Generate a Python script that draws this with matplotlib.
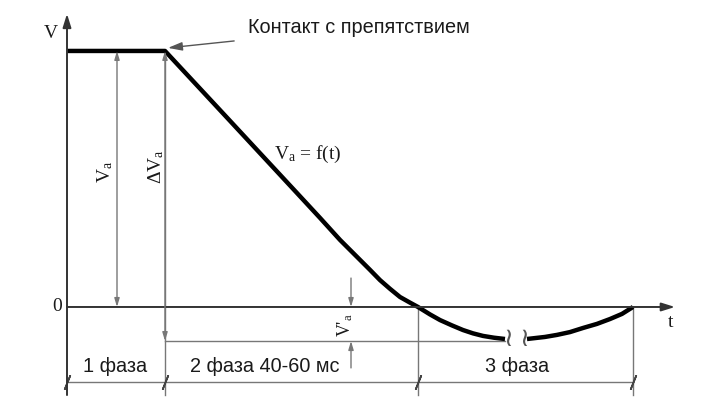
import matplotlib
matplotlib.use("Agg")
import matplotlib.pyplot as plt

plt.rcParams['mathtext.fontset'] = 'custom'
plt.rcParams['mathtext.rm'] = 'Liberation Serif'
plt.rcParams['mathtext.it'] = 'Liberation Serif:italic'

# ---- data (t in ms, V in relative units) ----
t_before_break = [0, 19.6, 32.6, 46.0, 50.6, 54.6, 56.6, 58.6, 60.6, 62.6, 64.6, 66.6, 68.6, 70.2,
                  72.6, 74.6, 77.0, 79.2, 81.2, 83.2, 85.4, 87.6]
V_before_break = [10.0, 10.0, 7.27, 4.45, 3.48, 2.62, 2.23, 1.84, 1.45, 1.05, 0.71, 0.39, 0.17, 0.0,
                  -0.29, -0.51, -0.72, -0.90, -1.03, -1.13, -1.20, -1.25]
t_after_break = [92.0, 95.6, 98.0, 100.6, 103.2, 106.0, 108.6, 111.0, 113.2]
V_after_break = [-1.25, -1.17, -1.09, -0.98, -0.82, -0.66, -0.47, -0.27, 0.0]

phase_bounds = [0, 19.6, 70.2, 113.2]
phase_labels = ['1 фаза', '2 фаза 40-60 мс', '3 фаза']
phase_label_t = [9.6, 39.6, 90.0]
V_plateau = 10.0
V_min = -1.33
t_break = [88.3, 91.5]

contact_label = 'Контакт с препятствием'

# ---- layout constants ----
axis_color = '#333333'
thin_color = '#777777'
text_color = '#1a1a1a'
dim_V = -2.93
bottom_V = -3.44

fig = plt.figure(figsize=(7.25, 4.03), dpi=100)
ax = fig.add_axes([0, 0, 1, 1])
ax.set_xlim(-13.4, 131.6)
ax.set_ylim(-3.75, 11.99)
ax.axis('off')

# axes with arrows
axis_arrow = dict(arrowstyle='-|>,head_length=0.8,head_width=0.25', color=axis_color, lw=1.4,
                  shrinkA=0, shrinkB=0)
ax.annotate('', xy=(0, 11.45), xytext=(0, bottom_V), arrowprops=axis_arrow)
ax.annotate('', xy=(121.6, 0), xytext=(0, 0), arrowprops=axis_arrow)

# thin vertical extension lines
ax.plot([phase_bounds[1]] * 2, [V_plateau, bottom_V], color=thin_color, lw=1.0)
ax.plot([phase_bounds[2]] * 2, [0, bottom_V], color=thin_color, lw=1.0)
ax.plot([phase_bounds[3]] * 2, [0, bottom_V], color=thin_color, lw=1.0)

# horizontal level line of V'a
ax.plot([phase_bounds[1], t_before_break[-1]], [V_min, V_min], color=thin_color, lw=1.0)

# dimension line with slash ticks
ax.plot([phase_bounds[0], phase_bounds[-1]], [dim_V, dim_V], color=thin_color, lw=1.0)
ax.plot(phase_bounds, [dim_V] * len(phase_bounds), ls='none', marker=(2, 2, -22),
        ms=11, mew=1.2, color='#444444')

# dimension arrows
arrow_kw = dict(arrowstyle='<|-|>,head_length=0.5,head_width=0.15', color=thin_color, lw=1.0,
                shrinkA=0, shrinkB=0)
ax.annotate('', xy=(10.0, V_plateau), xytext=(10.0, 0), arrowprops=arrow_kw)
ax.annotate('', xy=(phase_bounds[1], V_plateau), xytext=(phase_bounds[1], V_min), arrowprops=arrow_kw)
single_kw = dict(arrowstyle='-|>,head_length=0.5,head_width=0.15', color=thin_color, lw=1.0,
                 shrinkA=0, shrinkB=0)
ax.annotate('', xy=(56.8, 0), xytext=(56.8, 1.13), arrowprops=single_kw)
ax.annotate('', xy=(56.8, V_min), xytext=(56.8, -2.38), arrowprops=single_kw)

# main curve
ax.plot(t_before_break, V_before_break, color='black', lw=3.2, solid_capstyle='butt', solid_joinstyle='round')
ax.plot(t_after_break, V_after_break, color='black', lw=3.2, solid_capstyle='butt', solid_joinstyle='round')

# break marks
for tb in t_break:
    ax.text(tb, V_min + 0.08, '≀', ha='center', va='center', fontsize=19, color='#555555',
            family='DejaVu Sans')

# contact annotation
ax.annotate(contact_label, xy=(20.2, 10.12), xytext=(36.2, 10.9),
            ha='left', va='center', fontsize=14.3, color=text_color, family='Liberation Sans',
            arrowprops=dict(arrowstyle='-|>,head_length=0.6,head_width=0.18', color='#555555', lw=1.0,
                            shrinkA=8, shrinkB=0))

# axis labels
serif = 'Liberation Serif'
ax.text(-3.2, 10.7, 'V', ha='center', va='center', fontsize=14, family=serif, color=text_color)
ax.text(-1.0, 0, '0', ha='right', va='center', fontsize=14, family=serif, color=text_color)
ax.text(120.8, -0.59, 't', ha='center', va='center', fontsize=14, family=serif, color=text_color)

# quantity labels
ax.text(7.6, 5.27, r'V$_\mathrm{a}$', rotation=90, ha='center', va='center', fontsize=14,
        family=serif, color=text_color)
ax.text(17.8, 5.47, r'ΔV$_\mathrm{a}$', rotation=90, ha='center', va='center', fontsize=14,
        family=serif, color=text_color)
ax.text(48.2, 5.94, r'V$_\mathrm{a}$ = f(t)', ha='center', va='center', fontsize=14,
        family=serif, color=text_color)
ax.text(55.6, -0.70, r"V$'_\mathrm{a}$", rotation=90, ha='center', va='center', fontsize=13,
        family=serif, color=text_color)

# phase labels
for lab, tx in zip(phase_labels, phase_label_t):
    ax.text(tx, -2.34, lab, ha='center', va='center', fontsize=14.3, family='Liberation Sans',
            color=text_color)

fig.savefig('out.png', dpi=100)
